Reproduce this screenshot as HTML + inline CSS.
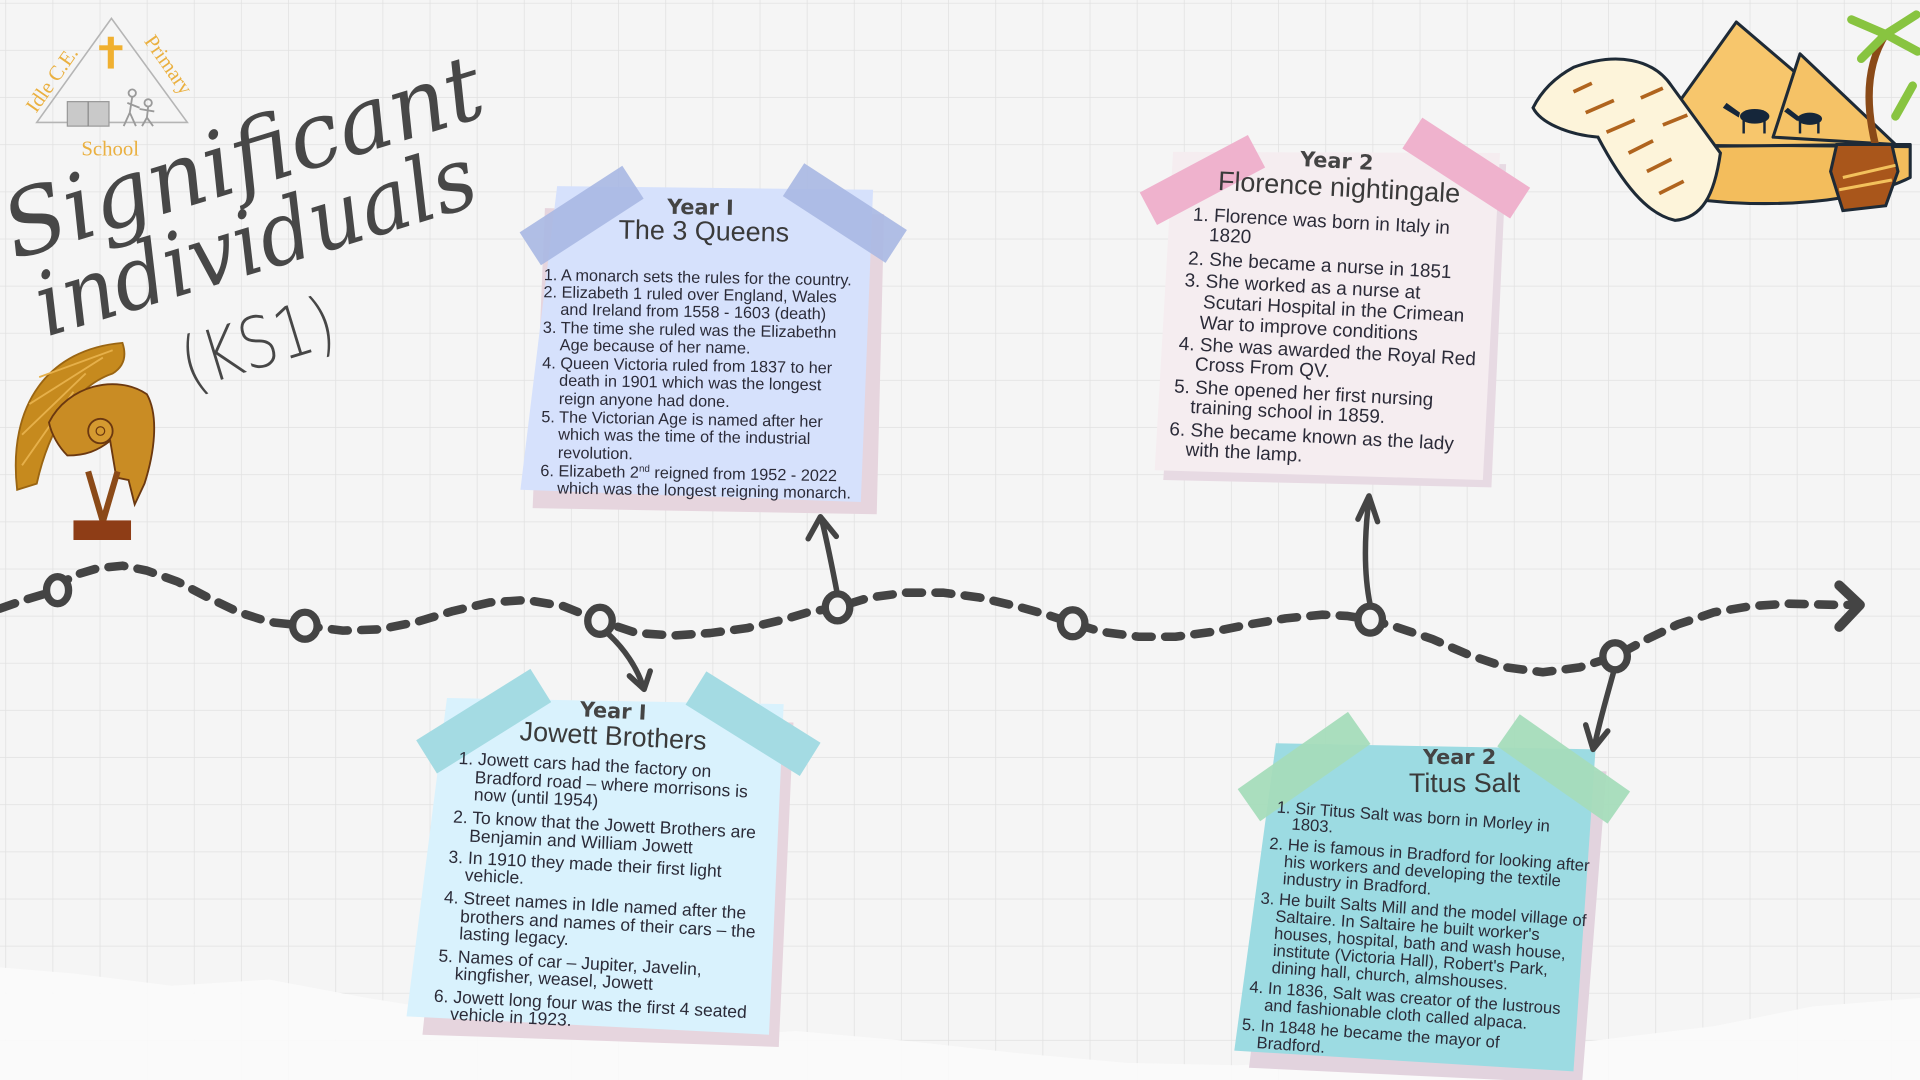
<!DOCTYPE html>
<html><head><meta charset="utf-8"><style>
html,body{margin:0;padding:0;width:1920px;height:1080px;overflow:hidden;background:#f4f4f4}
svg{display:block}
.l{font-family:"Liberation Sans",sans-serif;fill:#2b2b38}
.h{font-family:"DejaVu Sans","Liberation Sans",sans-serif;font-weight:bold;fill:#444}
.t{font-family:"Liberation Sans",sans-serif;fill:#3a3a3a}
</style></head><body>
<svg width="1920" height="1080" viewBox="0 0 1568 882" xmlns="http://www.w3.org/2000/svg">
<defs>
<pattern id="g" width="38.5" height="38.5" patternUnits="userSpaceOnUse" x="5" y="3">
<path d="M38.5 0V38.5M0 38.5H38.5" stroke="#e1e1e1" stroke-width="1.2" fill="none"/>
</pattern>
</defs>
<rect width="1568" height="882" fill="#f5f5f5"/>
<rect width="1568" height="882" fill="url(#g)"/>
<path d="M0,790 L60,795 L140,805 L220,800 L300,815 L380,828 L470,840 L560,848 L650,842 L740,850 L830,860 L920,868 L1010,870 L1100,866 L1200,858 L1300,850 L1400,838 L1480,822 L1568,815 L1568,882 L0,882Z" fill="#fbfbfb" opacity="0.9"/>

<!-- Logo -->
<polygon points="30,100 91,15 153,100" fill="none" stroke="#b5b5b5" stroke-width="1.3"/>
<rect x="88" y="30" width="5" height="26" fill="#f0b030"/>
<rect x="81" y="37" width="19" height="4" fill="#f0b030"/>
<rect x="55" y="83" width="34" height="20" fill="#c9c9c9" stroke="#999" stroke-width="1"/>
<line x1="72" y1="83" x2="72" y2="103" stroke="#888"/>
<g stroke="#9a9a9a" stroke-width="1.5" fill="none">
<circle cx="108" cy="76" r="3"/><path d="M108,79 L106,92 L101,103 M106,92 L111,103 M104,84 L114,88"/>
<circle cx="121" cy="84" r="3"/><path d="M121,87 L120,96 L116,103 M120,96 L125,103 M114,89 L126,91"/>
</g>
<text x="47" y="68" transform="rotate(-55 47 68)" text-anchor="middle" font-family="Liberation Serif,serif" font-size="17" fill="#eab040">Idle C.E.</text>
<text x="133" y="56" transform="rotate(55 133 56)" text-anchor="middle" font-family="Liberation Serif,serif" font-size="17" fill="#eab040">Primary</text>
<text x="90" y="127" text-anchor="middle" font-family="Liberation Serif,serif" font-size="17" fill="#eab040">School</text>

<!-- Title -->
<g fill="#474747" font-family="DejaVu Serif,Liberation Serif,serif" font-style="italic">
<text x="12" y="212" transform="rotate(-17 12 212)" font-size="74" textLength="405" lengthAdjust="spacingAndGlyphs">Significant</text>
<text x="38" y="275" transform="rotate(-17 38 275)" font-size="72" textLength="372" lengthAdjust="spacingAndGlyphs">individuals</text>
</g>
<text x="155" y="318" transform="rotate(-17 155 318)" font-family="DejaVu Sans,sans-serif" font-weight="300" font-size="58" fill="#474747" textLength="128" lengthAdjust="spacingAndGlyphs">(KS1)</text>

<!-- Helmet -->
<g>
<path d="M14,400 C6,330 40,285 100,280 C104,292 100,300 92,305 C62,315 40,350 30,395 Z" fill="#c68a1e" stroke="#9a6512" stroke-width="1.5"/>
<path d="M24,330 L84,292 M18,355 L70,305 M18,380 L60,320 M32,308 L92,286" stroke="#e6b04a" stroke-width="1.5"/>
<path d="M40,345 C55,315 95,305 120,322 C130,340 126,370 118,395 L110,412 L105,392 L95,390 L90,360 C80,368 70,372 55,372 C48,365 42,355 40,345Z" fill="#c98c24" stroke="#6b3810" stroke-width="1.5"/>
<circle cx="82" cy="352" r="10" fill="#d59a30" stroke="#6b3810" stroke-width="1.5"/>
<circle cx="82" cy="352" r="3.5" fill="none" stroke="#6b3810"/>
<path d="M72,385 L84,426 L96,385" stroke="#8b4a18" stroke-width="5" fill="none"/>
<rect x="60" y="425" width="47" height="16" fill="#8e3d16"/>
</g>

<!-- Egypt -->
<g stroke="#1e2a36" stroke-width="2.5" stroke-linejoin="round">
<path d="M1330,150 C1380,170 1500,175 1560,145 L1560,118 L1330,118Z" fill="#f3bd5c"/>
<polygon points="1345,120 1418,18 1535,118" fill="#f7c66c"/>
<polygon points="1448,112 1470,44 1548,118" fill="#f5c266"/>
<path d="M1325,118 L1560,120" stroke-width="2"/>
</g>
<g fill="#15263a">
<ellipse cx="1433" cy="95" rx="12" ry="6"/><rect x="1423" y="97" width="2" height="12"/><rect x="1440" y="97" width="2" height="12"/><path d="M1421,92 L1410,84 L1407,88 L1420,96Z"/>
<ellipse cx="1478" cy="97" rx="10" ry="5"/><rect x="1469" y="99" width="2" height="10"/><rect x="1484" y="99" width="2" height="10"/><path d="M1469,95 L1460,88 L1457,91 L1468,99Z"/>
</g>
<g stroke="#1e2a36" stroke-width="2.5">
<path d="M1532,120 C1522,80 1526,50 1540,28" fill="none" stroke="#8a4a18" stroke-width="6"/>
<path d="M1540,28 L1512,16 M1540,28 L1565,12 M1540,28 L1520,48 M1540,28 L1566,42 M1548,95 L1562,70" stroke="#88c440" stroke-width="7" stroke-linecap="round"/>
<path d="M1285,55 C1320,42 1350,48 1365,70 L1405,125 C1400,160 1390,178 1368,180 C1345,175 1325,150 1305,112 C1280,110 1258,100 1252,88 C1260,72 1272,62 1285,55Z" fill="#fdf4da"/>
<path d="M1500,118 L1545,118 L1550,140 L1540,168 L1505,172 L1495,140Z" fill="#a9561b"/>
</g>
<g stroke="#b0641e" stroke-width="3" fill="none">
<path d="M1285,75 L1300,68 M1295,92 L1318,82 M1312,108 L1335,98 M1330,125 L1350,115 M1345,140 L1365,130 M1355,158 L1375,148 M1340,80 L1358,72 M1358,102 L1378,94"/>
</g>
<path d="M1505,145 L1548,135 M1502,155 L1545,147" stroke="#f3c15c" stroke-width="2.5"/>

<!-- Card 1: Queens -->
<polygon points="445,170 722,175 716,420 435,415" fill="#e6d5de"/>
<polygon points="455,152 713,155 703,410 425,400" fill="#d6e1fc"/>
<rect x="425" y="160" width="100" height="32" fill="#a8b8e3" opacity="0.9" transform="rotate(-33 475 176)"/>
<rect x="640" y="158" width="100" height="32" fill="#a8b8e3" opacity="0.9" transform="rotate(33 690 174)"/>
<g transform="rotate(1 570 290)">
<text class="h" x="570" y="175" font-size="17" text-anchor="middle">Year I</text>
<text class="t" x="573" y="196" font-size="22" text-anchor="middle">The 3 Queens</text>
<g class="l" font-size="13.3">
<text x="443" y="231">1. A monarch sets the rules for the country.</text>
<text x="443" y="245">2. Elizabeth 1 ruled over England, Wales</text>
<text x="457" y="259">and Ireland from 1558 - 1603 (death)</text>
<text x="443" y="274">3. The time she ruled was the Elizabethn</text>
<text x="457" y="288">Age because of her name.</text>
<text x="443" y="303">4. Queen Victoria ruled from 1837 to her</text>
<text x="457" y="317">death in 1901 which was the longest</text>
<text x="457" y="332">reign anyone had done.</text>
<text x="443" y="347">5. The Victorian Age is named after her</text>
<text x="457" y="361">which was the time of the industrial</text>
<text x="457" y="376">revolution.</text>
<text x="443" y="391">6. Elizabeth 2<tspan font-size="8" dy="-5">nd</tspan><tspan dy="5"> reigned from 1952 - 2022</tspan></text>
<text x="457" y="405">which was the longest reigning monarch.</text>
</g></g>

<!-- Card 2: Florence -->
<polygon points="968,132 1230,134 1218,398 950,392" fill="#e7dae3"/>
<polygon points="958,124 1225,125 1211,392 943,384" fill="#f5edf0"/>
<rect x="932" y="132" width="100" height="30" fill="#efb2cd" transform="rotate(-28 982 147)"/>
<rect x="1145" y="122" width="105" height="30" fill="#efb2cd" transform="rotate(33 1197 137)"/>
<g transform="rotate(3 1085 260)">
<text class="h" x="1085" y="137" font-size="17" text-anchor="middle">Year 2</text>
<text class="t" x="1088" y="160" font-size="22" text-anchor="middle">Florence nightingale</text>
<g class="l" font-size="15.5">
<text x="970" y="186">1. Florence was born in Italy in</text>
<text x="984" y="202">1820</text>
<text x="968" y="222">2. She became a nurse in 1851</text>
<text x="966" y="240">3. She worked as a nurse at</text>
<text x="982" y="257">Scutari Hospital in the Crimean</text>
<text x="980" y="274">War to improve conditions</text>
<text x="964" y="292">4. She was awarded the Royal Red</text>
<text x="978" y="308">Cross From QV.</text>
<text x="962" y="327">5. She opened her first nursing</text>
<text x="976" y="343">training school in 1859.</text>
<text x="960" y="362">6. She became known as the lady</text>
<text x="974" y="378">with the lamp.</text>
</g></g>

<!-- Card 3: Jowett -->
<polygon points="372,585 648,590 636,855 345,845" fill="#e6d5de"/>
<polygon points="365,570 640,575 628,845 332,830" fill="#d9f2fd"/>
<rect x="340" y="573" width="110" height="32" fill="#a4dbe3" transform="rotate(-32 395 589)"/>
<rect x="560" y="575" width="110" height="32" fill="#a4dbe3" transform="rotate(32 615 591)"/>
<g transform="rotate(3 490 710)">
<text class="h" x="494" y="586" font-size="17" text-anchor="middle">Year I</text>
<text class="t" x="495" y="608" font-size="22" text-anchor="middle">Jowett Brothers</text>
<g class="l" font-size="14.3">
<text x="370" y="630">1. Jowett cars had the factory on</text>
<text x="384" y="645">Bradford road – where morrisons is</text>
<text x="384" y="659">now (until 1954)</text>
<text x="368" y="678">2. To know that the Jowett Brothers are</text>
<text x="382" y="693">Benjamin and William Jowett</text>
<text x="366" y="711">3. In 1910 they made their first light</text>
<text x="380" y="725">vehicle.</text>
<text x="364" y="744">4. Street names in Idle named after the</text>
<text x="378" y="759">brothers and names of their cars – the</text>
<text x="378" y="773">lasting legacy.</text>
<text x="362" y="792">5. Names of car – Jupiter, Javelin,</text>
<text x="376" y="806">kingfisher, weasel, Jowett</text>
<text x="360" y="825">6. Jowett long four was the first 4 seated</text>
<text x="374" y="839">vehicle in 1923.</text>
</g></g>

<!-- Card 4: Titus -->
<polygon points="1050,625 1312,630 1292,885 1020,872" fill="#e2d3de"/>
<polygon points="1042,607 1303,612 1285,875 1008,858" fill="#9cdbe2"/>
<rect x="1010" y="610" width="110" height="32" fill="#a5dcba" opacity="0.95" transform="rotate(-35 1065 626)"/>
<rect x="1222" y="612" width="110" height="32" fill="#a5dcba" opacity="0.95" transform="rotate(35 1277 628)"/>
<text class="h" x="1192" y="624" font-size="17" text-anchor="middle">Year 2</text>
<text class="t" x="1196" y="647" font-size="22" text-anchor="middle">Titus Salt</text>
<g transform="rotate(4 1160 760)">
<g class="l" font-size="13.6">
<text x="1036" y="672">1. Sir Titus Salt was born in Morley in</text>
<text x="1049" y="685">1803.</text>
<text x="1032" y="702">2. He is famous in Bradford for looking after</text>
<text x="1045" y="716">his workers and developing the textile</text>
<text x="1045" y="730">industry in Bradford.</text>
<text x="1028" y="747">3. He built Salts Mill and the model village of</text>
<text x="1041" y="761">Saltaire. In Saltaire he built worker's</text>
<text x="1041" y="775">houses, hospital, bath and wash house,</text>
<text x="1041" y="789">institute (Victoria Hall), Robert's Park,</text>
<text x="1041" y="803">dining hall, church, almshouses.</text>
<text x="1024" y="820">4. In 1836, Salt was creator of the lustrous</text>
<text x="1037" y="834">and fashionable cloth called alpaca.</text>
<text x="1020" y="851">5. In 1848 he became the mayor of</text>
<text x="1033" y="865">Bradford.</text>
</g></g>

<!-- Timeline -->
<polyline fill="none" stroke="#444" stroke-width="7" stroke-linecap="round" stroke-linejoin="round" stroke-dasharray="13 11"
points="0,497 20,490 40,484 60,470 80,464 100,462 120,466 145,475 170,488 195,500 220,508 249,511 280,515 310,514 340,508 370,499 400,492 430,490 460,495 490,507 520,517 550,519 580,517 610,513 640,506 660,500 684,496 710,488 740,484 770,484 800,488 830,495 855,502 876,509 900,516 930,520 960,520 990,516 1020,510 1050,505 1080,502 1100,503 1119,506 1140,512 1170,522 1200,535 1230,545 1260,549 1290,545 1319,536 1345,522 1370,510 1400,500 1430,495 1460,493 1500,494 1510,494"/>
<path d="M1502,478 L1519,494 L1502,512" stroke="#444" stroke-width="8" fill="none" stroke-linecap="round" stroke-linejoin="round"/>
<g stroke="#444" stroke-width="4.5" fill="none" stroke-linecap="round" stroke-linejoin="round">
<path d="M684,486 C680,465 676,445 671,424"/><path d="M660,440 L670,422 L683,438"/>
<path d="M1119,494 C1114,470 1114,440 1118,407"/><path d="M1109,424 L1118,405 L1125,426"/>
<path d="M497,518 C510,530 520,545 525,560"/><path d="M514,552 L526,563 L531,548"/>
<path d="M1318,548 C1312,570 1306,590 1302,610"/><path d="M1295,592 L1301,612 L1313,597"/>
</g>
<g stroke="#444" stroke-width="6" fill="#f3f3f3">
<ellipse cx="47" cy="482" rx="9" ry="11"/>
<ellipse cx="249" cy="511" rx="10" ry="11"/>
<ellipse cx="490" cy="507" rx="10" ry="11"/>
<ellipse cx="684" cy="496" rx="10" ry="11"/>
<ellipse cx="876" cy="509" rx="10" ry="11"/>
<ellipse cx="1119" cy="506" rx="10" ry="11"/>
<ellipse cx="1319" cy="536" rx="10" ry="11"/>
</g>
</svg>
</body></html>
